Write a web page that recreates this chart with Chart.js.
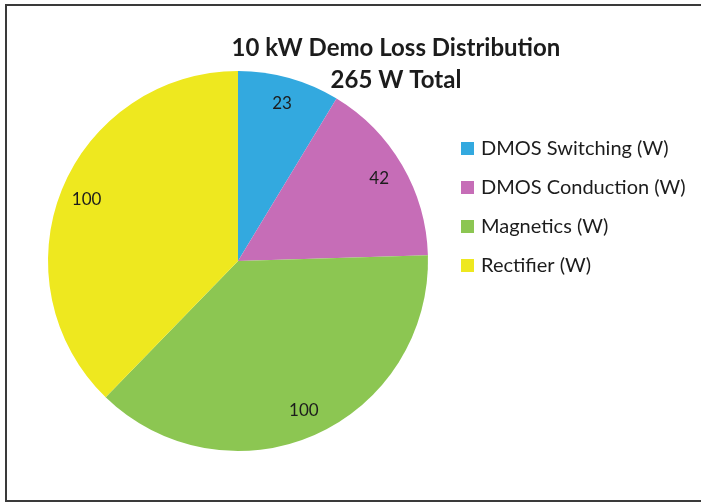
<!DOCTYPE html>
<html>
<head>
<meta charset="utf-8">
<script src="https://cdn.jsdelivr.net/npm/chart.js@4.4.1/dist/chart.umd.min.js"></script>
<style>
  html, body { margin: 0; padding: 0; background: #fff; }
  #wrap { position: relative; width: 701px; height: 502px; overflow: hidden; }
  #lossChart { display: block; }
  #frame {
    position: absolute; left: 5px; top: 4px; width: 696px; height: 494px;
    border: 2px solid #3a3a3a; border-right: none; pointer-events: none;
  }
</style>
</head>
<body>
<div id="wrap">
  <canvas id="lossChart" width="701" height="502"></canvas>
  <div id="frame"></div>
</div>
<script>
const titleLines = ["10 kW Demo Loss Distribution", "265 W Total"];
const categories = ["DMOS Switching (W)", "DMOS Conduction (W)", "Magnetics (W)", "Rectifier (W)"];
const lossValues = [23, 42, 100, 100];
const sliceColors = ["#33a9df", "#c66db7", "#8cc652", "#eee81f"];

const FONT = "Lato, 'Liberation Sans', sans-serif";

// value labels, title and legend are painted by hand so they sit where we want them
const chartText = {
    id: "chartText",
    afterDatasetsDraw(chart, args, opts) {
        const ctx = chart.ctx;
        const meta = chart.getDatasetMeta(0);
        ctx.save();
        ctx.fillStyle = "#1c1c1c";
        ctx.textAlign = "center";
        ctx.textBaseline = "middle";
        ctx.font = "17px " + FONT;
        meta.data.forEach((arc, i) => {
            const p = arc.getProps(["x", "y", "startAngle", "endAngle", "outerRadius"], true);
            const mid = (p.startAngle + p.endAngle) / 2;
            const r = p.outerRadius * opts.labelRadius;
            ctx.fillText(String(lossValues[i]), p.x + Math.cos(mid) * r, p.y + Math.sin(mid) * r);
        });

        // title
        ctx.font = "bold 24px " + FONT;
        titleLines.forEach((t, i) => ctx.fillText(t, opts.titleX, opts.titleY + i * 32));

        // legend
        ctx.textAlign = "left";
        ctx.font = "20px " + FONT;
        categories.forEach((c, i) => {
            const y = opts.legendY + i * 39;
            ctx.fillStyle = sliceColors[i];
            ctx.fillRect(opts.legendX, y - 6, 13, 13);
            ctx.fillStyle = "#1c1c1c";
            ctx.fillText(c, opts.legendX + 20, y + 1);
        });
        ctx.restore();
    }
};

new Chart(document.getElementById("lossChart"), {
    type: "pie",
    data: {
        labels: categories,
        datasets: [{
            data: lossValues,
            backgroundColor: sliceColors,
            borderWidth: 0
        }]
    },
    options: {
        responsive: false,
        animation: false,
        layout: { padding: { left: 48, right: 273, top: 71, bottom: 51 } },
        plugins: {
            legend: { display: false },
            title: { display: false },
            tooltip: { enabled: false },
            chartText: {
                labelRadius: 0.86,
                titleX: 396, titleY: 48,
                legendX: 461, legendY: 148
            }
        }
    },
    plugins: [chartText]
});
</script>
</body>
</html>
